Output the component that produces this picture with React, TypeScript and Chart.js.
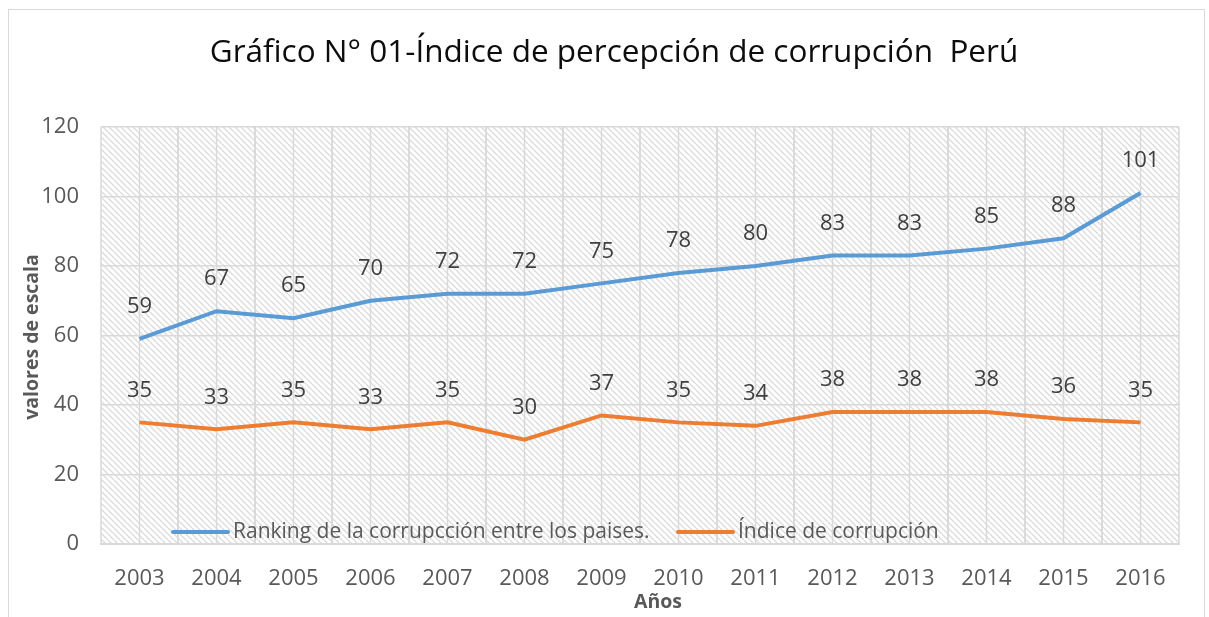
import { useEffect, useRef } from "react";
import { Chart, registerables } from "chart.js";

Chart.register(...registerables);

const years = ["2003", "2004", "2005", "2006", "2007", "2008", "2009", "2010", "2011", "2012", "2013", "2014", "2015", "2016"];
const rankingValues = [59, 67, 65, 70, 72, 72, 75, 78, 80, 83, 83, 85, 88, 101];
const indexValues = [35, 33, 35, 33, 35, 30, 37, 35, 34, 38, 38, 38, 36, 35];
const seriesNames = ["Ranking de la corrupcción entre los paises.", "Índice de corrupción"];
const seriesColors = ["#5b9bd5", "#ed7d31"];
const yMin = 0;
const yMax = 120;
const yStep = 20;
const titleText = "Gráfico N° 01-Índice de percepción de corrupción  Perú";
const xTitle = "Años";
const yTitle = "valores de escala";

const FONT = "'Open Sans', 'Noto Sans', sans-serif";

function makePattern(ctx: CanvasRenderingContext2D) {
  const c = document.createElement("canvas");
  c.width = 6;
  c.height = 6;
  const p = c.getContext("2d")!;
  p.fillStyle = "#ffffff";
  p.fillRect(0, 0, 6, 6);
  p.strokeStyle = "#dcdcdc";
  p.lineWidth = 1.4;
  for (const k of [-6, 0, 6]) {
    p.beginPath();
    p.moveTo(k, 0);
    p.lineTo(k + 6, 6);
    p.stroke();
  }
  return ctx.createPattern(c, "repeat");
}

export default function App() {
  const ref = useRef<HTMLCanvasElement | null>(null);

  useEffect(() => {
    document.body.style.margin = "0";
    const canvas = ref.current!;
    const bgPlugin = {
      id: "bgPlugin",
      beforeDraw(chart: any) {
        const ctx = chart.ctx as CanvasRenderingContext2D;
        const { left, right, top, bottom } = chart.chartArea;
        ctx.save();
        ctx.fillStyle = "#ffffff";
        ctx.fillRect(0, 0, chart.width, chart.height);
        ctx.strokeStyle = "#d9d9d9";
        ctx.lineWidth = 1;
        ctx.strokeRect(8.5, 9.5, chart.width - 13, chart.height + 20);
        const pat = makePattern(ctx);
        if (pat) {
          ctx.fillStyle = pat;
          ctx.fillRect(left, top, right - left, bottom - top);
        }
        const xs = chart.scales.x;
        const half = (xs.getPixelForValue(1) - xs.getPixelForValue(0)) / 2;
        ctx.strokeStyle = "#d9d9d9";
        ctx.lineWidth = 1.5;
        for (let i = 0; i < years.length; i++) {
          const cx = xs.getPixelForValue(i);
          for (const x of [cx - half, cx, cx + half]) {
            ctx.beginPath();
            ctx.moveTo(x, top);
            ctx.lineTo(x, bottom);
            ctx.stroke();
          }
        }
        ctx.restore();
      },
      afterDatasetsDraw(chart: any) {
        const ctx = chart.ctx as CanvasRenderingContext2D;
        ctx.save();
        ctx.font = `22px ${FONT}`;
        ctx.fillStyle = "#404040";
        ctx.textAlign = "center";
        ctx.textBaseline = "middle";
        chart.data.datasets.forEach((ds: any, di: number) => {
          const meta = chart.getDatasetMeta(di);
          meta.data.forEach((pt: any, i: number) => {
            ctx.fillText(String(ds.data[i]), pt.x, pt.y - 32);
          });
        });
        const legendY = 532;
        const starts = [173, 678];
        ctx.font = `21px ${FONT}`;
        ctx.textAlign = "left";
        ctx.fillStyle = "#595959";
        seriesNames.forEach((name, i) => {
          ctx.strokeStyle = seriesColors[i];
          ctx.lineWidth = 4;
          ctx.lineCap = "round";
          ctx.beginPath();
          ctx.moveTo(starts[i], legendY);
          ctx.lineTo(starts[i] + 55, legendY);
          ctx.stroke();
          ctx.fillText(name, starts[i] + 60, legendY);
        });
        ctx.restore();
      },
      afterDraw(chart: any) {
        const ctx = chart.ctx as CanvasRenderingContext2D;
        ctx.save();
        ctx.fillStyle = "#0d0d0d";
        ctx.font = `31.5px ${FONT}`;
        ctx.textAlign = "center";
        ctx.textBaseline = "middle";
        ctx.fillText(titleText, 614, 53);
        ctx.fillStyle = "#595959";
        ctx.font = `bold 19.5px ${FONT}`;
        ctx.fillText(xTitle, 658, 602);
        ctx.translate(32, 337);
        ctx.rotate(-Math.PI / 2);
        ctx.fillText(yTitle, 0, 0);
        ctx.restore();
      },
    };

    const chart = new Chart(canvas, {
      type: "line",
      data: {
        labels: years,
        datasets: [
          {
            label: seriesNames[0],
            data: rankingValues,
            borderColor: seriesColors[0],
            backgroundColor: seriesColors[0],
            borderWidth: 4,
            pointRadius: 0,
            tension: 0,
          },
          {
            label: seriesNames[1],
            data: indexValues,
            borderColor: seriesColors[1],
            backgroundColor: seriesColors[1],
            borderWidth: 4,
            pointRadius: 0,
            tension: 0,
          },
        ],
      },
      options: {
        animation: false,
        responsive: false,
        layout: { padding: { top: 127, right: 30, left: 0, bottom: 0 } },
        plugins: {
          legend: { display: false },
          title: { display: false },
          tooltip: { enabled: false },
        },
        scales: {
          x: {
            offset: true,
            grid: { display: false, drawTicks: false },
            border: { display: true, color: "#d9d9d9", width: 2 },
            ticks: { font: { family: FONT, size: 22 }, color: "#595959", padding: 22, maxRotation: 0 },
            afterFit: (s: any) => {
              s.height = 73;
            },
          },
          y: {
            min: yMin,
            max: yMax,
            ticks: { stepSize: yStep, font: { family: FONT, size: 22 }, color: "#595959", padding: 22 },
            grid: { color: "#d9d9d9", lineWidth: 1.5, drawTicks: false },
            border: { display: false },
            afterFit: (s: any) => {
              s.width = 101;
            },
          },
        },
      },
      plugins: [bgPlugin],
    } as any);
    return () => chart.destroy();
  }, []);

  return (
    <div style={{ position: "absolute", left: 0, top: 0, width: 1209, height: 617 }}>
      <canvas ref={ref} width={1209} height={617} />
    </div>
  );
}
